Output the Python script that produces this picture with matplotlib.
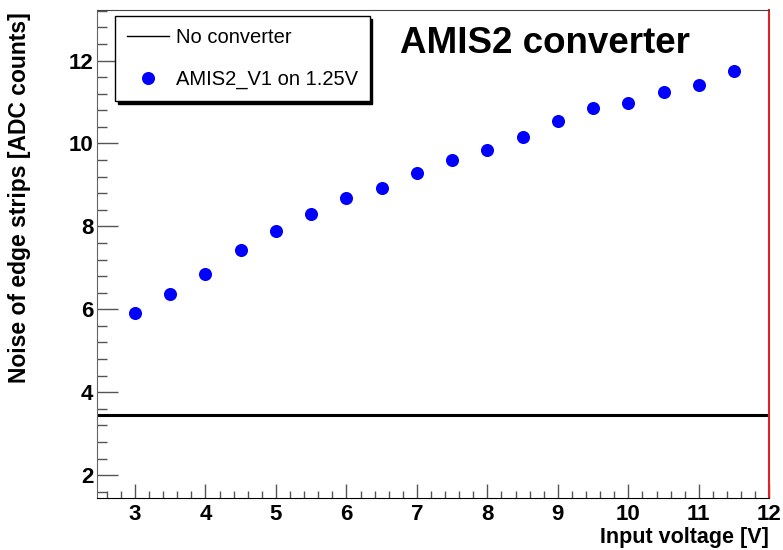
import matplotlib
matplotlib.use("Agg")
import matplotlib.pyplot as plt
from matplotlib.lines import Line2D
from matplotlib.ticker import MultipleLocator

plt.rcParams['font.family'] = ['Liberation Sans', 'DejaVu Sans']

# Data
input_voltage = [3.0, 3.5, 4.0, 4.5, 5.0, 5.5, 6.0, 6.5, 7.0, 7.5,
                 8.0, 8.5, 9.0, 9.5, 10.0, 10.5, 11.0, 11.5]
noise_amis2 = [5.92, 6.38, 6.86, 7.42, 7.89, 8.30, 8.68, 8.92, 9.28, 9.60,
               9.85, 10.16, 10.54, 10.86, 10.97, 11.23, 11.41, 11.74]
no_converter_level = 3.44

title_text = "AMIS2 converter"
series_labels = ["No converter", "AMIS2_V1 on 1.25V"]
xlabel = "Input voltage [V]"
ylabel = "Noise of edge strips [ADC counts]"

W, H = 783, 550
fig = plt.figure(figsize=(W / 100, H / 100), dpi=100)
ax = fig.add_axes([97.3 / W, 1 - 498.3 / H, (769.3 - 97.3) / W, (498.3 - 10) / H])

ax.axhline(no_converter_level, color='black', lw=2.2, zorder=2)
ax.plot(input_voltage, noise_amis2, 'o', color='#0000ff', ms=9.4,
        markeredgewidth=0, zorder=3)

ax.set_xlim(2.465, 12.0)
ax.set_ylim(1.44, 13.22)

ax.xaxis.set_major_locator(MultipleLocator(1))
ax.xaxis.set_minor_locator(MultipleLocator(0.2))
ax.yaxis.set_major_locator(MultipleLocator(2))
ax.yaxis.set_minor_locator(MultipleLocator(0.4))

tick_col = '#555555'
ax.tick_params(axis='both', which='both', direction='in', top=False, right=False,
               color=tick_col)
ax.tick_params(axis='x', which='major', length=10, width=1, pad=4, labelsize=16)
ax.tick_params(axis='x', which='minor', length=5, width=1)
ax.tick_params(axis='y', which='major', length=15, width=1, pad=3, labelsize=16)
ax.tick_params(axis='y', which='minor', length=7.5, width=1)
for lab in ax.get_xticklabels() + ax.get_yticklabels():
    lab.set_fontweight('bold')

ax.spines['left'].set_color('#666666')
ax.spines['bottom'].set_color('black')
ax.spines['top'].set_color('#444444')
ax.spines['right'].set_color('#dd2222')
ax.spines['right'].set_linewidth(1.5)

ax.set_xlabel(xlabel, fontsize=15.5, fontweight='bold', loc='right')
ax.xaxis.set_label_coords(1.0, -(543 - 498.3) / (498.3 - 10))
ax.xaxis.label.set_va('baseline')
ax.set_ylabel(ylabel, fontsize=16.5, fontweight='bold', loc='top')
ax.yaxis.set_label_coords((31.5 - 97.3) / (769.3 - 97.3), 1 - 2 / (498.3 - 10))

fig.text(400 / W, 1 - 53.3 / H, title_text, fontsize=26.5, fontweight='bold',
         ha='left', va='baseline')

handles = [Line2D([], [], color='black', lw=1),
           Line2D([], [], ls='none', marker='o', color='#0000ff', ms=9.4,
                  markeredgewidth=0)]
leg = ax.legend(handles, series_labels, loc='upper left',
                bbox_to_anchor=(115 / W, 1 - 16 / H), bbox_transform=fig.transFigure,
                borderaxespad=0, borderpad=0.58, fontsize=14.5, handlelength=2.1,
                handletextpad=0.35, labelspacing=1.15, fancybox=False,
                framealpha=1, edgecolor='black',
                shadow={'facecolor': 'black', 'edgecolor': 'black', 'alpha': 1})
leg.get_frame().set_linewidth(1)

fig.savefig("out.png", dpi=100)
